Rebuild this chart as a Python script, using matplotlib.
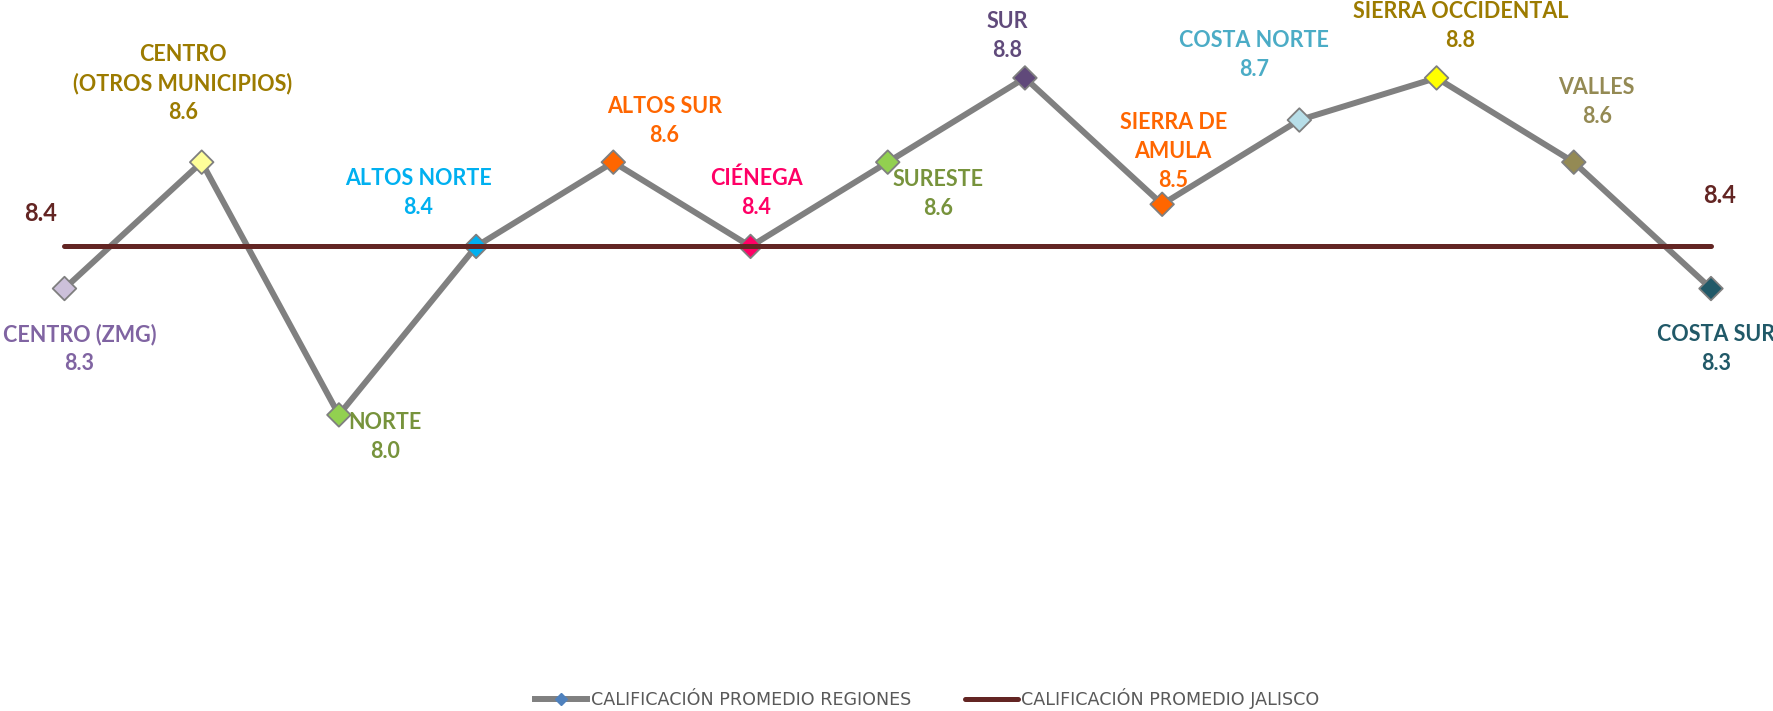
import matplotlib
matplotlib.use("Agg")
import matplotlib.pyplot as plt
from matplotlib.lines import Line2D

# Data
regions = ["CENTRO (ZMG)", "CENTRO\n(OTROS MUNICIPIOS)", "NORTE", "ALTOS NORTE", "ALTOS SUR",
           "CIÉNEGA", "SURESTE", "SUR", "SIERRA DE\nAMULA", "COSTA NORTE",
           "SIERRA OCCIDENTAL", "VALLES", "COSTA SUR"]
region_scores = [8.3, 8.6, 8.0, 8.4, 8.6, 8.4, 8.6, 8.8, 8.5, 8.7, 8.8, 8.6, 8.3]
jalisco_score = 8.4
series_names = ["CALIFICACIÓN PROMEDIO REGIONES", "CALIFICACIÓN PROMEDIO JALISCO"]

# Styles
marker_colors = ["#CCC0DA", "#FFFF99", "#92D050", "#00B0F0", "#FF6600", "#FF0066", "#92D050",
                 "#60497A", "#FF6600", "#B7DEE8", "#FFFF00", "#948A54", "#215968"]
label_colors = ["#8064A2", "#9C7B00", "#77933C", "#00B0F0", "#FF6600", "#FF0066", "#77933C",
                "#604A7B", "#FF6600", "#4BACC6", "#9C7B00", "#948A54", "#215968"]
# label offsets from each marker (pixels, first text line centre; +y is up)
label_offsets = [(15, -46), (-19, 108), (46, -8), (-58, 68), (51, 56), (6, 68), (50, -17),
                 (-18, 56), (11, 82), (-45, 80), (24, 66), (23, 75), (5, -46)]
LINE_GAP = 29  # px between stacked label lines
PX2PT = 72 / 100

GRAY = "#808080"
JAL = "#632523"
LABEL_FONT = "Lato"

fig = plt.figure(figsize=(17.73, 7.11), dpi=100)
ax = fig.add_axes([0, 0, 1, 1])
ax.set_xlim(-0.470, 12.452)
ax.set_ylim(7.297, 8.985)
ax.axis("off")

x = list(range(len(regions)))
ax.plot(x, region_scores, color=GRAY, lw=4.3, zorder=2, solid_joinstyle="miter")
ax.scatter(x, region_scores, marker="D", s=12 ** 2, c=marker_colors,
           edgecolors="#7F7F7F", linewidths=1.3, zorder=3)
ax.plot([x[0], x[-1]], [jalisco_score, jalisco_score], color=JAL, lw=3.6,
        solid_capstyle="round", zorder=4)

for xi, name, val, col, (dx, dy) in zip(x, regions, region_scores, label_colors, label_offsets):
    lines = name.split("\n") + [f"{val:.1f}"]
    for k, line in enumerate(lines):
        ax.annotate(line, (xi, val), xytext=(dx * PX2PT, (dy - k * LINE_GAP) * PX2PT),
                    textcoords="offset points", ha="center", va="center",
                    color=col, fontsize=15.5, fontweight="bold", family=LABEL_FONT, zorder=5)

for xi, (dx, dy) in ((x[0], (-24, 33)), (x[-1], (9, 51))):
    ax.annotate(f"{jalisco_score:.1f}", (xi, jalisco_score), xytext=(dx * PX2PT, dy * PX2PT),
                textcoords="offset points", ha="center", va="center",
                color=JAL, fontsize=17, fontweight="bold", family=LABEL_FONT, zorder=5)

handles = [
    Line2D([], [], color=GRAY, lw=4.3, marker="D", markersize=6,
           markerfacecolor="#4F81BD", markeredgecolor="#4F81BD"),
    Line2D([], [], color=JAL, lw=3.6, solid_capstyle="round"),
]
leg = fig.legend(handles, series_names, loc="center", bbox_to_anchor=(0.523, 0.017),
                 ncol=2, frameon=False, handlelength=3.0, handletextpad=0.2,
                 columnspacing=3.1, prop={"family": "DejaVu Sans", "size": 12.6})
for t in leg.get_texts():
    t.set_color("#595959")

fig.savefig("out.png", dpi=100, facecolor="white")
